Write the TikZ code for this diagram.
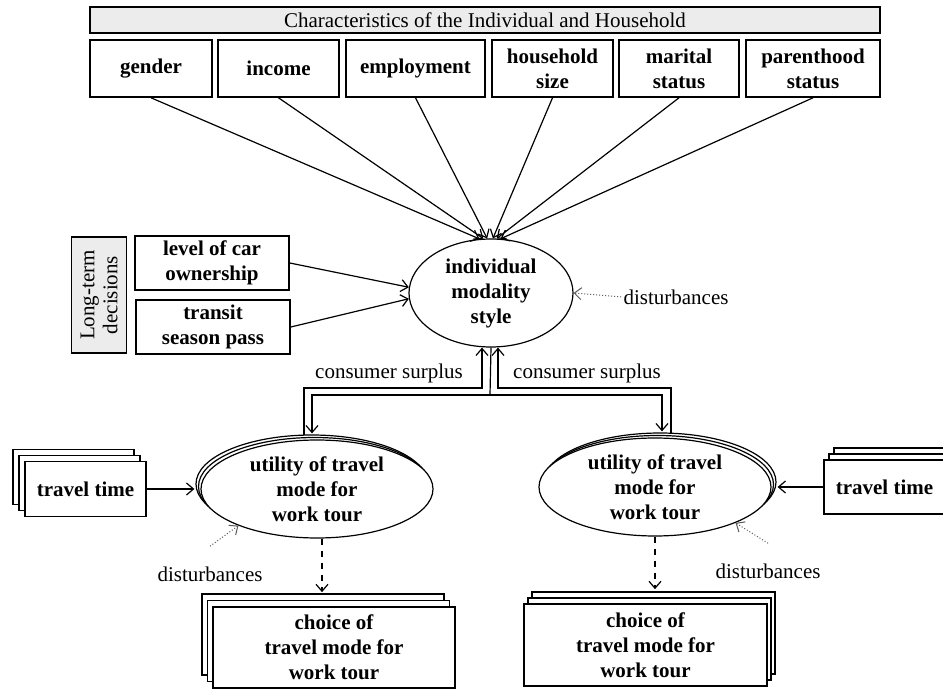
\documentclass[tikz,border=0pt]{standalone}
\usepackage{fontspec}
\setmainfont{Liberation Serif}
\usetikzlibrary{shapes.geometric,shadows,arrows.meta}

\begin{document}
\begin{tikzpicture}[x=0.5pt, y=-0.5pt,
    >={Straight Barb[length=3.5pt,width=6pt]},
    every node/.style={font=\fontsize{10.5}{12.5}\selectfont},
    var/.style={draw, line width=0.8pt, fill=white, align=center, inner sep=1pt,
        font=\fontsize{10.5}{12.5}\selectfont\bfseries},
    lat/.style={ellipse, draw, line width=0.6pt, fill=white, align=center, inner sep=0pt,
        font=\fontsize{10.5}{12.5}\selectfont\bfseries},
    group/.style={draw, line width=0.8pt, fill=gray!15, align=center, inner sep=0pt},
    note/.style={inner sep=1pt},
    stack/.style n args={4}{general shadow={shadow xshift=#3, shadow yshift=#4, fill=white, draw},
        general shadow={shadow xshift=#1, shadow yshift=#2, fill=white, draw}},
    link/.style={->, line width=0.6pt},
    dist/.style={->, line width=0.5pt, densely dotted, gray!70!black}]
    \useasboundingbox (0, 0) rectangle (943, 689);

    % Characteristics
    \node[group, minimum width=395pt, minimum height=13pt] at (485, 20) (chars) {Characteristics of the Individual and Household};
    \node[var, minimum width=61pt, minimum height=28.5pt] at (151, 68.5) (gender) {gender};
    \node[var, minimum width=60.5pt, minimum height=28.5pt] at (278.5, 68.5) (income) {income};
    \node[var, minimum width=69.5pt, minimum height=28.5pt] at (415.5, 68.5) (employ) {employment};
    \node[var, minimum width=60.5pt, minimum height=28.5pt] at (552.5, 68.5) (hhsize) {household\\size};
    \node[var, minimum width=60pt, minimum height=28.5pt] at (679, 68.5) (marital) {marital\\status};
    \node[var, minimum width=67pt, minimum height=28.5pt] at (813, 68.5) (parent) {parenthood\\status};

    % Long-term decisions
    \node[group, rotate=90, minimum width=58pt, minimum height=27.5pt,
        font=\fontsize{10.5}{11.5}\selectfont] at (99, 295) (longterm) {Long-term\\decisions};
    \node[var, minimum width=77pt, minimum height=27pt] at (212, 263) (carown) {level of car\\ownership};
    \node[var, minimum width=77pt, minimum height=27pt] at (213, 327) (transit) {transit\\season pass};

    % Modality style
    \node[lat, minimum width=82pt, minimum height=54pt] at (491, 293) (modal) {individual\\modality\\style};
    \node[note] at (676, 297) (distS) {disturbances};

    % Work tour, left
    \node[var, stack={-3pt}{3pt}{-6pt}{6pt}, minimum width=60.5pt, minimum height=27.5pt] at (85.5, 489) (timeL) {travel time};
    \node[lat, stack={-1.25pt}{1.25pt}{-2.5pt}{2.5pt}, minimum width=116pt, minimum height=49pt] at (317, 489) (utilL) {utility of travel\\mode for\\work tour};
    \node[var, stack={-2.75pt}{3.25pt}{-5.5pt}{6.5pt}, minimum width=121pt, minimum height=40.5pt] at (334, 647.5) (choiceL) {choice of\\travel mode for\\work tour};
    \node[note] at (210, 574) (distL) {disturbances};

    % Work tour, right
    \node[var, stack={2.5pt}{3pt}{5pt}{6pt}, minimum width=60.5pt, minimum height=27pt] at (884.5, 487) (timeR) {travel time};
    \node[lat, stack={1.25pt}{1.25pt}{2.5pt}{2.5pt}, minimum width=116pt, minimum height=49pt] at (655, 487) (utilR) {utility of travel\\mode for\\work tour};
    \node[var, stack={2pt}{3pt}{4pt}{6pt}, minimum width=121.5pt, minimum height=41pt] at (645.5, 645) (choiceR) {choice of\\travel mode for\\work tour};
    \node[note] at (768, 571) (distR) {disturbances};

    % Consumer surplus
    \node[note] at (389, 373) (csurL) {consumer surplus};
    \node[note] at (587, 373) (csurR) {consumer surplus};
    \coordinate (split) at (490, 395);
    \coordinate (backL) at (482, 388);
    \coordinate (backR) at (498, 388);

    % Arrows
    \draw[link] (gender.south) -- (modal.102);
    \draw[link] (income.south) -- (modal.98);
    \draw[link] (employ.south) -- (modal.94);
    \draw[link] (hhsize.south) -- (modal.88);
    \draw[link] (marital.south) -- (modal.84);
    \draw[link] (parent.south) -- (modal.80);
    \draw[link] (carown.east) -- (modal.176);
    \draw[link] (transit.east) -- (modal.184);
    \draw[dist] (distS.west) -- (modal.east);

    \draw[line width=0.6pt] (modal.south) -- (split);
    \draw[link] (split) -| ([xshift=-2.5pt,yshift=3pt]utilL.north);
    \draw[link] (split) -| ([xshift=3.5pt,yshift=3pt]utilR.north);
    \draw[link] ([xshift=-6.5pt,yshift=2pt]utilL.north) |- (backL) -- (backL |- modal.south);
    \draw[link] ([xshift=8pt,yshift=2pt]utilR.north) |- (backR) -- (backR |- modal.south);

    \draw[link] (timeL.east) -- ([xshift=-3pt]utilL.west);
    \draw[link] (timeR.west) -- ([xshift=3pt]utilR.east);
    \draw[link, dashed] ([xshift=2.5pt]utilL.south) -- ([xshift=2.5pt,yshift=7pt]utilL.south |- choiceL.north);
    \draw[link, dashed] (utilR.south) -- ([yshift=7pt]utilR.south |- choiceR.north);
    \draw[dist] ([yshift=9pt]distL.north) -- (utilL.205);
    \draw[dist] ([yshift=9pt]distR.north) -- (utilR.336);
\end{tikzpicture}
\end{document}
